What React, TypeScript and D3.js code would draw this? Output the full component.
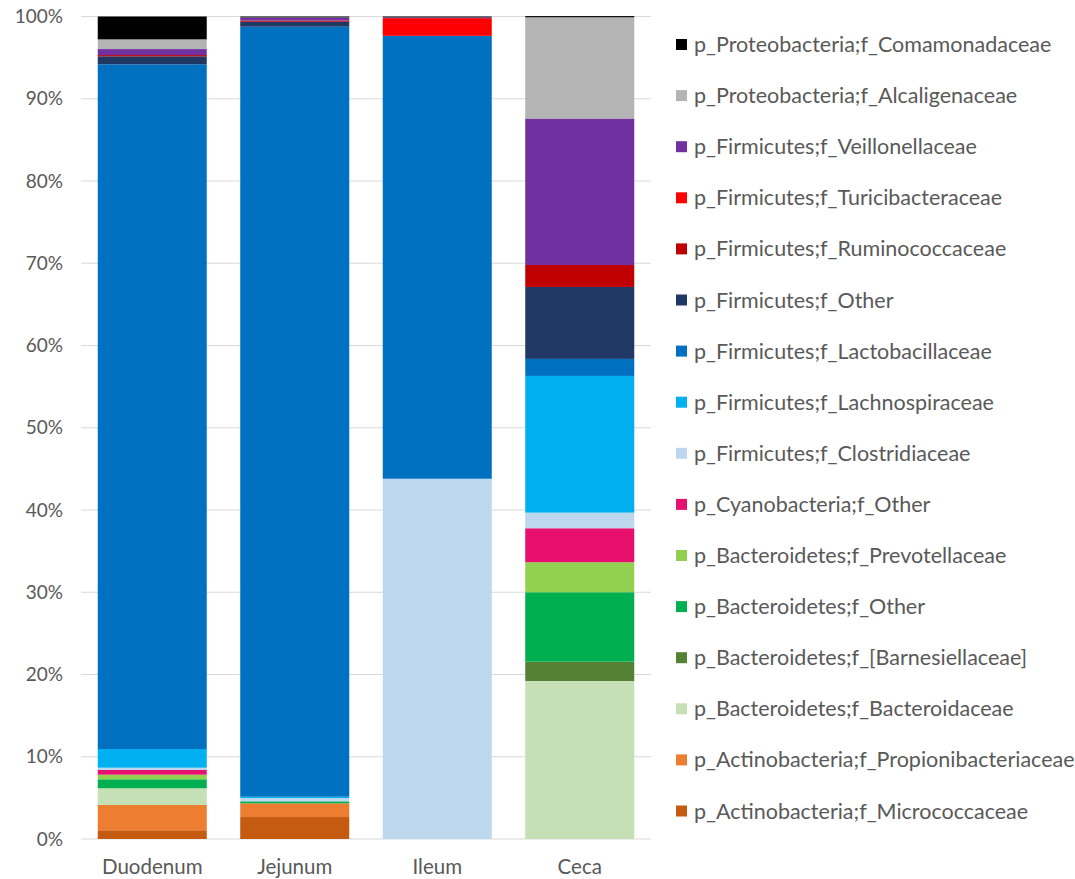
import React from "react";
import * as d3 from "d3";

// Sample sites along the x axis
const sites = ["Duodenum", "Jejunum", "Ileum", "Ceca"];

// Taxa, in stacking order from bottom to top
const taxa = [
  "p_Actinobacteria;f_Micrococcaceae",
  "p_Actinobacteria;f_Propionibacteriaceae",
  "p_Bacteroidetes;f_Bacteroidaceae",
  "p_Bacteroidetes;f_[Barnesiellaceae]",
  "p_Bacteroidetes;f_Other",
  "p_Bacteroidetes;f_Prevotellaceae",
  "p_Cyanobacteria;f_Other",
  "p_Firmicutes;f_Clostridiaceae",
  "p_Firmicutes;f_Lachnospiraceae",
  "p_Firmicutes;f_Lactobacillaceae",
  "p_Firmicutes;f_Other",
  "p_Firmicutes;f_Ruminococcaceae",
  "p_Firmicutes;f_Turicibacteraceae",
  "p_Firmicutes;f_Veillonellaceae",
  "p_Proteobacteria;f_Alcaligenaceae",
  "p_Proteobacteria;f_Comamonadaceae",
];

const taxaColors = [
  "#C55A11",
  "#ED7D31",
  "#C5E0B4",
  "#548235",
  "#00B050",
  "#92D050",
  "#E8106E",
  "#BDD7EE",
  "#00B0F0",
  "#0070C0",
  "#203864",
  "#C00000",
  "#FF0000",
  "#7030A0",
  "#B4B4B4",
  "#000000",
];

// Relative abundance (%) per site, same order as taxa
const duodenum = [1.06, 3.08, 2.03, 0, 1.09, 0.56, 0.57, 0.28, 2.27, 83.25, 0.97, 0.15, 0, 0.73, 1.18, 2.78];
const jejunum = [2.67, 1.67, 0, 0, 0.24, 0, 0, 0.4, 0.16, 93.62, 0.6, 0.15, 0, 0.35, 0.02, 0.12];
const ileum = [0, 0, 0, 0, 0, 0, 0, 43.8, 0, 53.85, 0, 0, 2.15, 0.1, 0, 0.1];
const ceca = [0, 0, 19.21, 2.35, 8.44, 3.65, 4.13, 1.9, 16.62, 2.07, 8.75, 2.67, 0, 17.81, 12.3, 0.15];

const yTicks = [0, 10, 20, 30, 40, 50, 60, 70, 80, 90, 100];

const seriesBySite = [duodenum, jejunum, ileum, ceca];

const W = 1075;
const H = 879;
const plot = { left: 81, right: 651, top: 16.5, bottom: 839 };
const FONT = "Lato, 'Open Sans', sans-serif";
const TEXT = "#595959";

export default function App() {
  const rows = sites.map((s, i) => {
    const r: Record<string, number | string> = { site: s };
    taxa.forEach((t, j) => (r[t] = seriesBySite[i][j]));
    return r;
  });
  const stacked = d3.stack<Record<string, number | string>>().keys(taxa)(rows as any);

  const x = d3.scaleBand().domain(sites).range([plot.left, plot.right]).paddingInner(0.235).paddingOuter(0.1175);
  const y = d3.scaleLinear().domain([0, 100]).range([plot.bottom, plot.top]);
  const color = d3.scaleOrdinal<string, string>().domain(taxa).range(taxaColors);

  const legendItems = taxa.slice().reverse();
  const legendY = d3.scalePoint().domain(legendItems).range([44.5, 811]);

  return (
    <svg width={W} height={H} style={{ position: "absolute", left: 0, top: 0, background: "#fff" }}>
      <g>
        {yTicks.map((t) => (
          <g key={t}>
            <line x1={plot.left} x2={plot.right} y1={y(t)} y2={y(t)} stroke="#D9D9D9" strokeWidth={1} />
            <text x={63} y={y(t)} dy="0.35em" textAnchor="end" fontFamily={FONT} fontSize={19} fill={TEXT}>
              {t}%
            </text>
          </g>
        ))}
      </g>
      <g>
        {stacked.map((layer) => (
          <g key={layer.key} fill={color(layer.key)}>
            {layer.map((d, i) =>
              d[1] - d[0] > 0 ? (
                <rect
                  key={i}
                  x={x(sites[i])}
                  width={x.bandwidth()}
                  y={y(d[1])}
                  height={y(d[0]) - y(d[1])}
                />
              ) : null
            )}
          </g>
        ))}
      </g>
      <g>
        {sites.map((s) => (
          <text
            key={s}
            x={(x(s) as number) + x.bandwidth() / 2}
            y={867}
            dy="0.35em"
            textAnchor="middle"
            fontFamily={FONT}
            fontSize={20.5}
            fill={TEXT}
          >
            {s}
          </text>
        ))}
      </g>
      <g>
        {legendItems.map((t) => (
          <g key={t} transform={`translate(676,${legendY(t)})`}>
            <rect x={0} y={-5.5} width={11} height={11} fill={color(t)} />
            <text x={18} y={0} dy="0.35em" fontFamily={FONT} fontSize={21.5} fill={TEXT}>
              {t}
            </text>
          </g>
        ))}
      </g>
    </svg>
  );
}
